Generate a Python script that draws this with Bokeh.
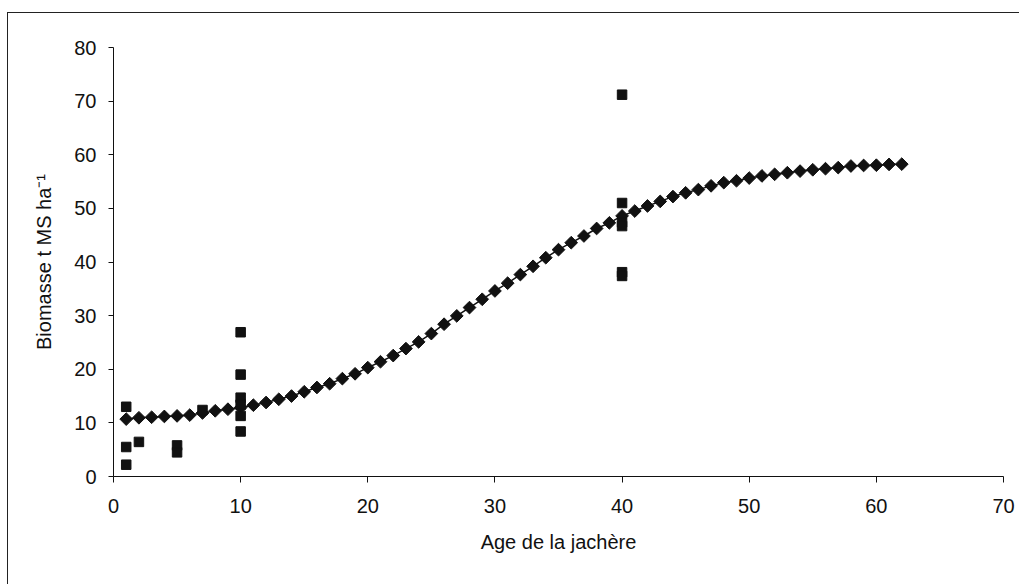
from bokeh.plotting import figure
from bokeh.models import Range1d, SingleIntervalTicker, InlineStyleSheet
from bokeh.embed import file_html
from bokeh.resources import INLINE

# Fitted curve (diamonds), one per year of fallow age
curve_age = list(range(1, 63))
curve_biomass = [
    10.7, 10.95, 11.05, 11.2, 11.3, 11.45, 11.85, 12.25, 12.55, 12.85,
    13.3, 13.8, 14.4, 15.0, 15.8, 16.6, 17.3, 18.25, 19.15, 20.3,
    21.4, 22.55, 23.85, 25.1, 26.65, 28.4, 29.95, 31.5, 33.05, 34.6,
    36.05, 37.65, 39.2, 40.8, 42.3, 43.6, 44.85, 46.25, 47.3, 48.6,
    49.5, 50.45, 51.3, 52.2, 52.9, 53.5, 54.2, 54.8, 55.15, 55.65,
    56.05, 56.35, 56.65, 56.95, 57.2, 57.4, 57.6, 57.9, 58.0, 58.05,
    58.2, 58.25,
]

# Observed biomass (squares)
obs_age = [1, 1, 1, 2, 5, 5, 7, 10, 10, 10, 10, 10, 10, 40, 40, 40, 40, 40, 40]
obs_biomass = [13.0, 5.5, 2.2, 6.45, 5.8, 4.5, 12.4,
               26.9, 19.0, 14.7, 13.4, 11.3, 8.4,
               71.2, 51.0, 47.4, 46.7, 38.1, 37.4]

x_title = "Age de la jachère"
y_title = "Biomasse t MS ha⁻¹"

FONT = "Liberation Sans"
INK = "#111111"

p = figure(width=1019, height=584, output_backend="svg", toolbar_location=None,
           x_range=Range1d(0, 70), y_range=Range1d(0, 80),
           min_border_left=113, min_border_right=16,
           min_border_top=47, min_border_bottom=108)

p.grid.visible = False
p.outline_line_color = None
p.background_fill_color = "white"
p.border_fill_color = "white"

p.line(curve_age, curve_biomass, line_color=INK, line_width=1.5)
p.scatter(curve_age, curve_biomass, marker="square", size=9, angle=0.785398,
          fill_color=INK, line_color=INK)
p.scatter(obs_age, obs_biomass, marker="square", size=9.5,
          fill_color=INK, line_color=INK)

for ax in (p.xaxis[0], p.yaxis[0]):
    ax.ticker = SingleIntervalTicker(interval=10)
    ax.minor_tick_line_color = None
    ax.major_tick_in = 0
    ax.major_tick_out = 5
    ax.axis_line_color = INK
    ax.major_tick_line_color = INK
    ax.major_label_text_font = FONT
    ax.major_label_text_font_size = "20px"
    ax.major_label_text_color = INK
    ax.axis_label_text_font = FONT
    ax.axis_label_text_font_size = "20px"
    ax.axis_label_text_font_style = "normal"
    ax.axis_label_text_color = INK

p.xaxis.axis_label = x_title
p.yaxis.axis_label = y_title
p.xaxis.major_tick_out = 6
p.xaxis.major_label_standoff = 16
p.xaxis.axis_label_standoff = 15
p.yaxis.major_label_standoff = 12
p.yaxis.axis_label_standoff = 16

p.stylesheets.append(InlineStyleSheet(css=(
    ":host::after{content:'';position:absolute;left:7px;top:12px;right:0;bottom:0;"
    "border-left:1px solid #222;border-top:1px solid #222;pointer-events:none;z-index:5;}"
)))

open("out.html", "w").write(file_html(p, INLINE))
